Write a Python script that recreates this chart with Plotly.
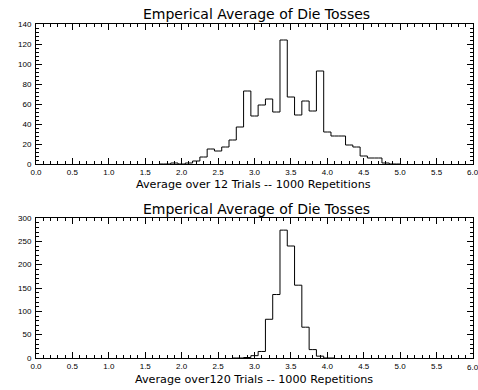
import plotly.graph_objects as go

# Top histogram: average over 12 trials (bin centers, counts)
bins12 = [1.7, 1.8, 1.9, 2.0, 2.1, 2.2, 2.3, 2.4, 2.5, 2.6, 2.7, 2.8, 2.9, 3.0, 3.1, 3.2,
          3.3, 3.4, 3.5, 3.6, 3.7, 3.8, 3.9, 4.0, 4.1, 4.2, 4.3, 4.4, 4.5, 4.6,
          4.7, 4.8, 4.9, 5.0]
counts12 = [0, 0, 1, 0, 1, 3, 7, 15, 13, 17, 24, 37, 73, 48, 59, 65,
            52, 124, 67, 49, 63, 53, 93, 32, 28, 28, 19, 17, 8, 6,
            6, 1, 0, 0]

# Bottom histogram: average over 120 trials
bins120 = [2.7, 2.8, 2.9, 3.0, 3.1, 3.2, 3.3, 3.4, 3.5, 3.6, 3.7, 3.8, 3.9, 4.0, 4.1]
counts120 = [0, 0, 1, 5, 14, 83, 136, 274, 240, 156, 66, 18, 4, 0, 0]

title_text = "Emperical Average of Die Tosses"
xtitle12 = "Average over 12 Trials -- 1000 Repetitions"
xtitle120 = "Average over120 Trials -- 1000 Repetitions"
last_xtick = 6.0

W, H = 478, 390
ML, MR, MT, MB = 36, 5, 24, 32
PH = H - MT - MB


def py(px):
    return (H - MB - px) / PH


fig = go.Figure()
fig.add_trace(go.Scatter(x=bins12, y=counts12, mode="lines", line=dict(shape="hvh", color="black", width=1),
                         xaxis="x", yaxis="y", showlegend=False, hoverinfo="skip"))
fig.add_trace(go.Scatter(x=bins120, y=counts120, mode="lines", line=dict(shape="hvh", color="black", width=1),
                         xaxis="x2", yaxis="y2", showlegend=False, hoverinfo="skip"))

tickfont = dict(family="Liberation Sans", size=8, color="black")
common_x = dict(range=[0, 6], dtick=0.5, tick0=0, tickformat=".1f", showgrid=False, zeroline=False,
                showline=True, linecolor="black", linewidth=1, mirror="allticks", ticks="inside",
                ticklen=6, tickcolor="black", tickwidth=1, tickfont=tickfont,
                minor=dict(dtick=0.1, ticks="inside", ticklen=3, tickcolor="black", tickwidth=1, showgrid=False))
common_y = dict(showgrid=False, zeroline=False, showline=True, linecolor="black", linewidth=1,
                mirror="allticks", ticks="inside", ticklen=6, tickcolor="black", tickwidth=1,
                tickfont=tickfont, ticklabelstandoff=2)

fig.update_layout(
    width=W, height=H,
    margin=dict(l=ML, r=MR, t=MT, b=MB),
    paper_bgcolor="white", plot_bgcolor="white",
    xaxis=dict(domain=[0, 1], anchor="y", **common_x),
    yaxis=dict(domain=[py(164), 1], anchor="x", range=[0, 140], dtick=20,
               minor=dict(dtick=4, ticks="inside", ticklen=3, tickcolor="black", tickwidth=1, showgrid=False),
               **common_y),
    xaxis2=dict(domain=[0, 1], anchor="y2", **common_x),
    yaxis2=dict(domain=[0, py(218)], anchor="x2", range=[0, 300], dtick=50,
                minor=dict(dtick=10, ticks="inside", ticklen=3, tickcolor="black", tickwidth=1, showgrid=False),
                **common_y),
)

tfont = dict(family="DejaVu Sans", size=14, color="black")
afont = dict(family="DejaVu Sans", size=11.2, color="black")
fig.add_annotation(text=title_text, x=0.505, y=py(14), xref="paper", yref="paper",
                   xanchor="center", yanchor="middle", showarrow=False, font=tfont)
fig.add_annotation(text=title_text, x=0.505, y=py(209), xref="paper", yref="paper",
                   xanchor="center", yanchor="middle", showarrow=False, font=tfont)
fig.add_annotation(text=xtitle12, x=0.498, y=py(184), xref="paper", yref="paper",
                   xanchor="center", yanchor="middle", showarrow=False, font=afont)
fig.add_annotation(text=xtitle120, x=0.498, y=py(379), xref="paper", yref="paper",
                   xanchor="center", yanchor="middle", showarrow=False, font=afont)
# the last x tick label, which the browser window cuts at its edge as in the reference
for xr, ypx in (("x", 172.5), ("x2", 367.5)):
    fig.add_annotation(text=f"{last_xtick:.1f}", x=last_xtick, xref=xr, y=py(ypx), yref="paper",
                       xanchor="center", yanchor="middle", showarrow=False, font=tickfont)

fig.write_html("out.html", config={"displayModeBar": False},
               post_script="document.body.style.margin='0';document.body.style.overflow='hidden';")
